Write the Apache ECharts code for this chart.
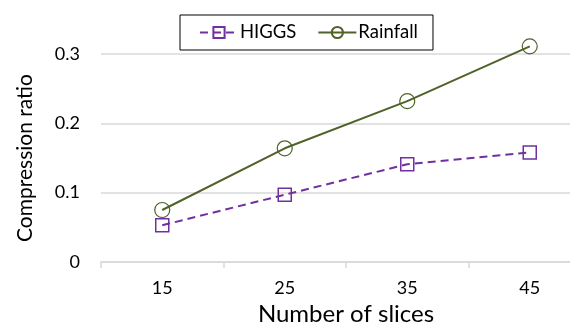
<!DOCTYPE html>
<html>
<head>
<meta charset="utf-8">
<script src="https://cdn.jsdelivr.net/npm/echarts@6/dist/echarts.min.js"></script>
<style>
  html, body { margin: 0; padding: 0; background: #fff; }
  #chart { width: 570px; height: 325px; }
</style>
</head>
<body>
<div id="chart"></div>
<script>
// Number of slices on the x axis
const slices = ['15', '25', '35', '45'];
// Compression ratio per dataset
const higgs = [0.053, 0.097, 0.141, 0.158];
const rainfall = [0.075, 0.164, 0.232, 0.311];
// Y axis ticks
const yTicks = [0, 0.1, 0.2, 0.3];

const FONT = 'Lato';
const chart = echarts.init(document.getElementById('chart'), null, { renderer: 'canvas' });

chart.setOption({
  animation: false,
  backgroundColor: '#fff',
  textStyle: { fontFamily: FONT, color: '#000' },
  // the plot runs past the right edge of the canvas, so the last band is cut off
  grid: { left: 101, width: 490, top: 54, bottom: 63, containLabel: false, outerBoundsMode: 'none' },
  legend: {
    left: 180,
    top: 15,
    padding: [8, 15, 8, 19],
    borderColor: '#000',
    borderWidth: 1,
    itemWidth: 38,
    itemHeight: 14,
    itemGap: 21,
    textStyle: { fontFamily: FONT, fontSize: 18.5, color: '#000', padding: [0, 0, 0, -3] },
    data: ['HIGGS', 'Rainfall']
  },
  xAxis: {
    type: 'category',
    data: slices,
    boundaryGap: true,
    name: 'Number of slices',
    nameLocation: 'middle',
    nameGap: 34,
    nameTextStyle: { fontFamily: FONT, fontSize: 24, color: '#000' },
    axisLine: { lineStyle: { color: '#d9d9d9', width: 1.5 } },
    axisTick: { show: true, length: 6, lineStyle: { color: '#d9d9d9', width: 1.5 } },
    axisLabel: { fontFamily: FONT, fontSize: 18, color: '#000', margin: 17 }
  },
  yAxis: {
    type: 'value',
    min: yTicks[0],
    max: yTicks[yTicks.length - 1],
    interval: 0.1,
    name: 'Compression ratio',
    nameLocation: 'middle',
    nameGap: 65,
    nameTextStyle: { fontFamily: FONT, fontSize: 21, color: '#000' },
    axisLine: { show: false },
    axisTick: { show: false },
    axisLabel: {
      fontFamily: FONT, fontSize: 18, color: '#000', margin: 21,
      formatter: v => (v === 0 ? '0' : v.toFixed(1))
    },
    splitLine: { lineStyle: { color: '#d9d9d9', width: 1.5 } }
  },
  series: [
    {
      name: 'HIGGS',
      type: 'line',
      data: higgs,
      clip: false,
      symbol: 'rect',
      symbolSize: 13,
      lineStyle: { color: '#7030a0', width: 2, type: [8, 5] },
      itemStyle: { color: 'rgba(255,255,255,0)', borderColor: '#7030a0', borderWidth: 1.5 },
      z: 3
    },
    {
      name: 'Rainfall',
      type: 'line',
      data: rainfall,
      clip: false,
      symbol: 'circle',
      symbolSize: 15,
      lineStyle: { color: '#4f6228', width: 2 },
      itemStyle: { color: 'rgba(255,255,255,0)', borderColor: '#4f6228', borderWidth: 1.2 },
      z: 4
    }
  ]
});
</script>
</body>
</html>
